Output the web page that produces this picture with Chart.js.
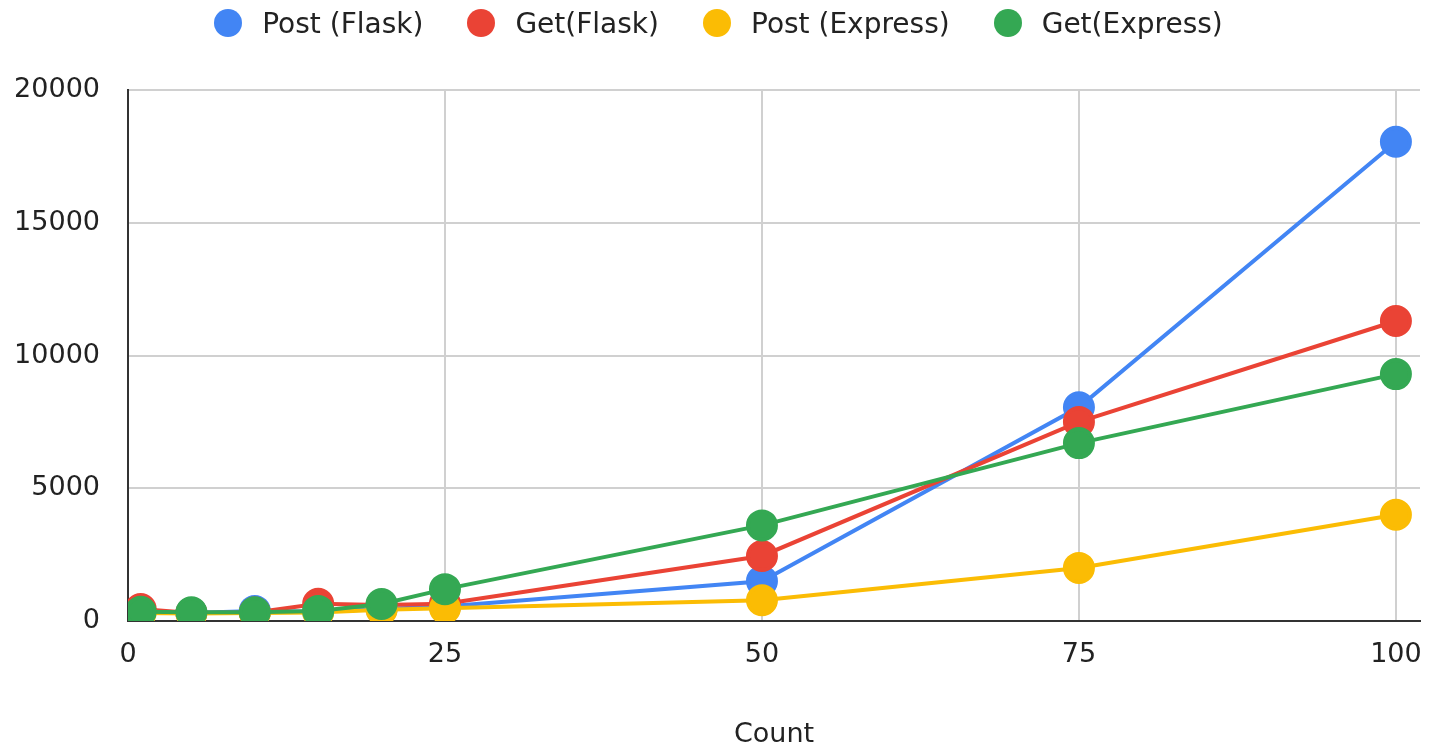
<!DOCTYPE html>
<html>
<head>
<meta charset="utf-8">
<script src="https://cdn.jsdelivr.net/npm/chart.js@4/dist/chart.umd.min.js"></script>
<style>
  html, body { margin: 0; padding: 0; background: #fff; }
  #wrap { position: relative; width: 1429px; height: 749px; }
  #legend {
    position: absolute; top: 8px; left: 0; width: 1429px;
    display: flex; justify-content: center; padding-left: 8px; box-sizing: border-box;
    font-family: 'DejaVu Sans', sans-serif; font-size: 28px; color: #222;
  }
  .item { display: flex; align-items: center; margin: 0 22px; height: 30px; }
  .dot { width: 28px; height: 28px; border-radius: 50%; margin-right: 20px; }
</style>
</head>
<body>
<div id="wrap">
  <div id="legend"></div>
  <canvas id="chart" width="1429" height="749"></canvas>
</div>
<script>
// request counts on the x axis
const counts = [1, 5, 10, 15, 20, 25, 50, 75, 100];

// response times per series
const postFlask = [350, 300, 380, 350, 450, 550, 1500, 8050, 18050];
const getFlask = [450, 300, 320, 650, 600, 650, 2450, 7500, 11300];
const postExpress = [300, 280, 300, 320, 420, 480, 780, 2000, 4000];
const getExpress = [350, 330, 330, 380, 640, 1200, 3600, 6700, 9300];

const xTicks = [0, 25, 50, 75, 100];
const yTicks = [0, 5000, 10000, 15000, 20000];

const toPoints = (vals) => counts.map((c, i) => ({ x: c, y: vals[i] }));

const makeSet = (label, vals, color, order) => ({
  label: label,
  data: toPoints(vals),
  borderColor: color,
  backgroundColor: color,
  pointBackgroundColor: color,
  pointBorderColor: color,
  borderWidth: 4,
  pointRadius: 14,
  pointHoverRadius: 14,
  tension: 0,
  order: order,
});

const font = { family: "'DejaVu Sans', sans-serif", size: 27 };

const chart = new Chart(document.getElementById('chart'), {
  type: 'line',
  data: {
    datasets: [
      makeSet('Post (Flask)', postFlask, '#4285F4', 4),
      makeSet('Get(Flask)', getFlask, '#EA4335', 3),
      makeSet('Post (Express)', postExpress, '#FBBC04', 2),
      makeSet('Get(Express)', getExpress, '#34A853', 1),
    ],
  },
  options: {
    responsive: false,
    animation: false,
    layout: { autoPadding: false, padding: { top: 90, right: 9, left: 0, bottom: 0 } },
    plugins: {
      tooltip: { enabled: false },
      legend: { display: false },
    },
    scales: {
      x: {
        type: 'linear',
        min: 0,
        max: 101.9,
        afterBuildTicks: (scale) => {
          scale.ticks = xTicks.map((v) => ({ value: v }));
        },
        afterFit: (scale) => {
          scale.height = 128;
          scale.paddingLeft = 0;
          scale.paddingRight = 0;
        },
        ticks: { color: '#222', font: font, padding: 18, maxRotation: 0 },
        grid: { color: '#d0d0d0', lineWidth: 2, drawTicks: false },
        border: { display: true, color: '#333', width: 2 },
        title: {
          display: true,
          text: 'Count',
          color: '#222',
          font: font,
          padding: { top: 38, bottom: -2 },
        },
      },
      y: {
        min: 0,
        max: 20000,
        afterBuildTicks: (scale) => {
          scale.ticks = yTicks.map((v) => ({ value: v }));
        },
        afterFit: (scale) => {
          scale.width = 128;
        },
        ticks: { color: '#222', font: font, padding: 28, callback: (v) => String(v) },
        grid: { color: '#d0d0d0', lineWidth: 2, drawTicks: false },
        border: { display: true, color: '#333', width: 2 },
      },
    },
  },
});

// html legend built from the datasets
const legendEl = document.getElementById('legend');
chart.data.datasets.forEach((ds) => {
  const item = document.createElement('div');
  item.className = 'item';
  const dot = document.createElement('span');
  dot.className = 'dot';
  dot.style.background = ds.borderColor;
  const txt = document.createElement('span');
  txt.textContent = ds.label;
  item.appendChild(dot);
  item.appendChild(txt);
  legendEl.appendChild(item);
});
</script>
</body>
</html>
